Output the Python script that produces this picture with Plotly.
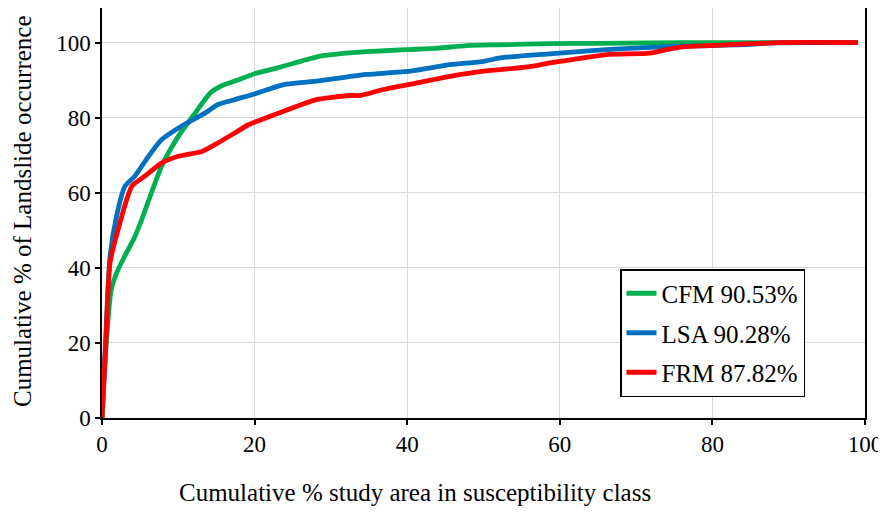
import plotly.graph_objects as go

# CFM curve
cfm_x = [0, 0.5, 1.2, 2.1, 3.2, 4.3, 5.2, 6.3, 7.8, 10.0, 12.2, 14.2, 15.7, 17.5, 20.0, 22.9, 26.0, 28.6, 31.0, 34.2, 39.9, 44.0, 47.8, 52.0, 58.7, 65.0, 72.0, 80.0, 90.0, 99.0]
cfm_y = [0, 18, 34.1, 39.5, 44.0, 48.3, 52.8, 59.0, 67.0, 75.0, 81.2, 86.6, 88.5, 89.8, 91.7, 93.2, 95.0, 96.4, 97.0, 97.5, 98.1, 98.5, 99.2, 99.4, 99.7, 99.8, 99.9, 100, 100, 100]

# LSA curve
lsa_x = [0, 0.5, 1.05, 1.9, 3.0, 4.3, 6.1, 7.8, 10.4, 13.5, 15.2, 17.4, 20.0, 23.8, 28.1, 31.0, 34.7, 40.4, 45.6, 50.0, 52.2, 58.7, 66.1, 74.9, 80.0, 85.0, 88.0, 92.0, 99.0]
lsa_y = [0, 22, 43.0, 53.7, 61.7, 64.4, 69.7, 74.1, 77.7, 81.2, 83.5, 84.8, 86.3, 88.8, 89.7, 90.5, 91.5, 92.4, 94.1, 95.0, 95.9, 97.0, 98.1, 99.0, 99.2, 99.5, 99.9, 100, 100]

# FRM curve
frm_x = [0, 0.5, 1.05, 2.1, 3.9, 5.6, 7.8, 10.0, 13.1, 14.8, 17.4, 19.2, 23.8, 28.1, 32.5, 33.8, 36.9, 41.2, 45.6, 50.0, 54.3, 56.5, 58.7, 61.8, 66.1, 71.8, 74.0, 75.8, 82.7, 88.9, 99.1]
frm_y = [0, 20, 41.3, 50.1, 61.7, 64.4, 67.9, 69.7, 71.0, 72.8, 75.9, 78.1, 81.7, 84.8, 85.9, 85.9, 87.5, 89.2, 91.0, 92.4, 93.2, 93.7, 94.6, 95.5, 96.8, 97.2, 98.1, 98.8, 99.5, 100, 100]

names = ["CFM 90.53%", "LSA 90.28%", "FRM 87.82%"]
colors = ["#00B050", "#0070C0", "#FF0000"]
x_ticks = [0, 20, 40, 60, 80, 100]
y_ticks = [0, 20, 40, 60, 80, 100]

FONT = "Liberation Serif, Times New Roman, serif"
OFF = 8  # page body margin
W, H = 886 - OFF, 513 - OFF
PL, PR, PT, PB = 102 - OFF, 865 - OFF, 5 - OFF + 3, 418 - OFF
PW, PH = PR - PL, PB - PT

fig = go.Figure()
for xs, ys, nm, col in [(cfm_x, cfm_y, names[0], colors[0]),
                        (lsa_x, lsa_y, names[1], colors[1]),
                        (frm_x, frm_y, names[2], colors[2])]:
    fig.add_trace(go.Scatter(x=xs, y=ys, mode="lines", name=nm, legendgroup=nm,
                             line=dict(color=col, width=4.8, shape="spline", smoothing=0.6)))

axis_common = dict(showline=True, linecolor="black", linewidth=1.5, mirror=True,
                   showgrid=True, gridcolor="#d9d9d9", gridwidth=1,
                   ticks="outside", ticklen=5, tickcolor="black", tickwidth=1.5,
                   zeroline=False, automargin=False,
                   tickfont=dict(family=FONT, size=23, color="black"))

fig.update_xaxes(range=[0, 100], tickvals=x_ticks, **axis_common)
fig.update_yaxes(range=[0, 110 * (PB - PT) / (PB - (5 - OFF))], tickvals=y_ticks, **axis_common)

fig.add_annotation(text="Cumulative % study area in susceptibility class",
                   xref="paper", yref="paper", x=(415 - OFF - PL) / PW, y=-(492 - OFF - PB) / PH,
                   xanchor="center", yanchor="middle", showarrow=False,
                   font=dict(family=FONT, size=25, color="black"))
fig.add_annotation(text="Cumulative % of Landslide occurrence",
                   xref="paper", yref="paper", x=-(PL - (22 - OFF)) / PW, y=(PB - (211 - OFF)) / PH,
                   xanchor="center", yanchor="middle", showarrow=False, textangle=-90,
                   font=dict(family=FONT, size=25, color="black"))

fig.update_layout(
    width=W, height=H,
    margin=dict(l=PL, r=W - PR, t=PT, b=H - PB),
    plot_bgcolor="white", paper_bgcolor="white",
    font=dict(family=FONT, size=25, color="black"),
    legend=dict(x=(620 - OFF - PL) / PW, y=(PB - (269 - OFF)) / PH, xanchor="left", yanchor="top",
                bordercolor="black", borderwidth=1.5, bgcolor="white",
                font=dict(family=FONT, size=25, color="black"),
                tracegroupgap=4),
    showlegend=True,
)

fig.write_html("out.html")
